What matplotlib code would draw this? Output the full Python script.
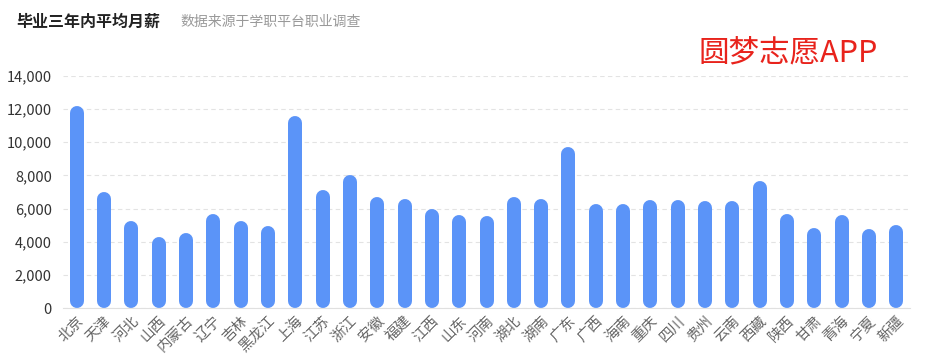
import matplotlib
matplotlib.use("Agg")
import matplotlib.pyplot as plt
from matplotlib.ticker import FuncFormatter

plt.rcParams['font.family'] = ['Noto Sans CJK SC', 'DejaVu Sans']

provinces = ["北京", "天津", "河北", "山西", "内蒙古", "辽宁", "吉林", "黑龙江", "上海", "江苏",
             "浙江", "安徽", "福建", "江西", "山东", "河南", "湖北", "湖南", "广东", "广西",
             "海南", "重庆", "四川", "贵州", "云南", "西藏", "陕西", "甘肃", "青海", "宁夏", "新疆"]
salaries = [12200, 7000, 5250, 4300, 4500, 5700, 5250, 4950, 11600, 7100,
            8050, 6700, 6600, 6000, 5600, 5550, 6700, 6600, 9700, 6300,
            6300, 6500, 6500, 6450, 6450, 7650, 5700, 4800, 5600, 4750, 5000]
yticks = [0, 2000, 4000, 6000, 8000, 10000, 12000, 14000]

W, H, DPI = 941, 355, 100
fig = plt.figure(figsize=(W / DPI, H / DPI), dpi=DPI)
ax = fig.add_axes([63 / W, 47 / H, (910 - 63) / W, (308 - 76) / H])

n = len(provinces)
ax.set_xlim(-0.5, n - 0.5)
ax.set_ylim(0, 14000)

bar_px = 14
color = "#5b94f8"
fig.canvas.draw()
p0 = ax.transData.transform((0, 0))
p1 = ax.transData.transform((0, 1000))
px_per_unit = (p1[1] - p0[1]) / 1000.0
r = (bar_px / 2) / px_per_unit
lw = bar_px * 72 / DPI
for i, v in enumerate(salaries):
    ax.plot([i, i], [r, v - r], color=color, lw=lw, solid_capstyle='round', zorder=3)

ax.set_yticks(yticks)
ax.yaxis.set_major_formatter(FuncFormatter(lambda v, p: f"{int(v):,}"))
ax.grid(axis='y', color='#e3e3e3', linestyle=(0, (4, 3)), lw=0.8, zorder=0)
ax.set_xticks(range(n))
ax.set_xticklabels(provinces, rotation=45, ha='right', rotation_mode='anchor')
ax.tick_params(axis='x', length=0, pad=4, labelsize=10.5, labelcolor='#666666')
ax.tick_params(axis='y', length=0, pad=8, labelsize=10.5, labelcolor='#333333')
for s in ['top', 'right', 'left']:
    ax.spines[s].set_visible(False)
ax.spines['bottom'].set_color('#e0e0e0')

fig.text(16 / W, 1 - 22 / H, "毕业三年内平均月薪", fontsize=11.5, fontweight='bold',
         color='#222222', va='center', ha='left')
fig.text(180 / W, 1 - 22 / H, "数据来源于学职平台职业调查", fontsize=10,
         color='#999999', va='center', ha='left')
fig.text(788 / W, 1 - 53 / H, "圆梦志愿APP", fontsize=22, color='#e8231c',
         va='center', ha='center')

fig.savefig("out.png", dpi=DPI)
